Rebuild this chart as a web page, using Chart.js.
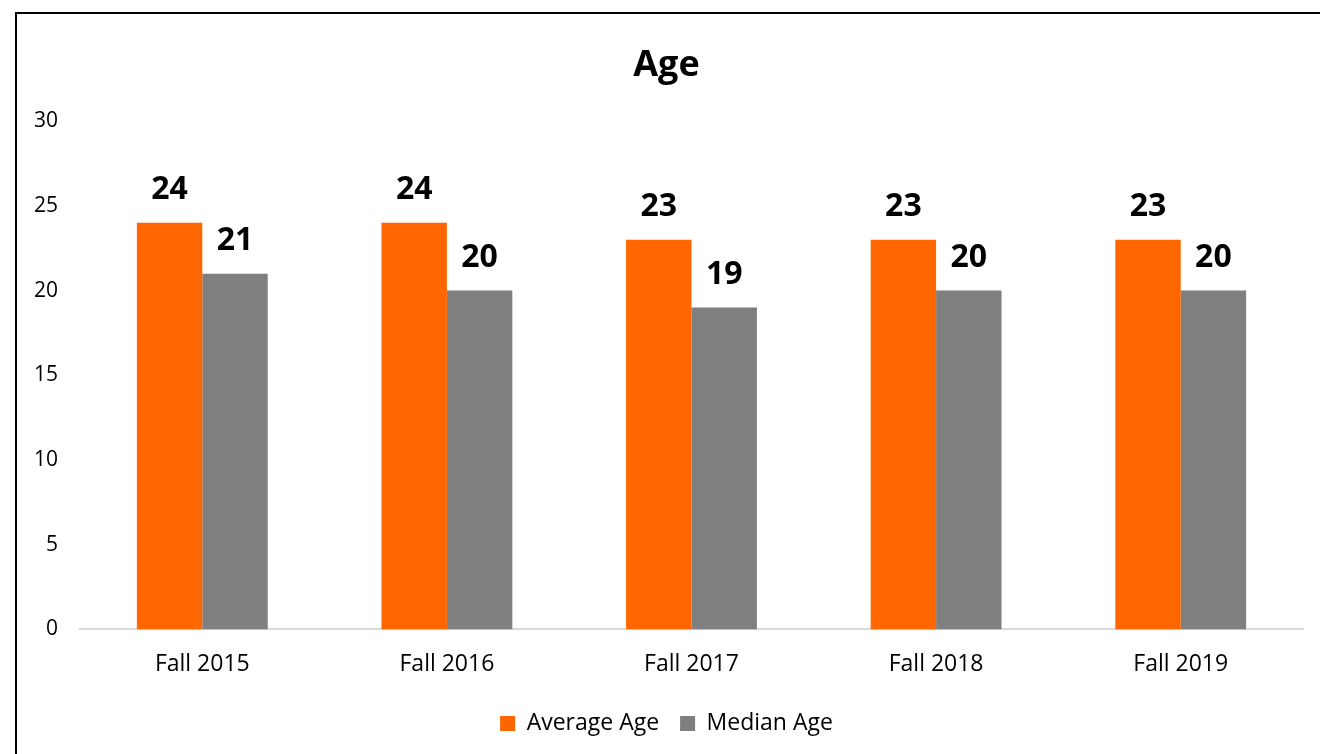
<!DOCTYPE html>
<html>
<head>
<meta charset="utf-8">
<script src="https://cdn.jsdelivr.net/npm/chart.js@4"></script>
<style>
  html, body { margin: 0; padding: 0; background: #fff; overflow: hidden; }
  .frame { position: absolute; left: 15px; top: 12px; width: 1400px; height: 900px; border: 2px solid #000; }
  .wrap { position: absolute; left: 0; top: 0; width: 1320px; height: 754px; }
</style>
</head>
<body>
<div class="frame"></div>
<div class="wrap"><canvas id="chart"></canvas></div>
<script>
const categories = ['Fall 2015', 'Fall 2016', 'Fall 2017', 'Fall 2018', 'Fall 2019'];
const averageAge = [24, 24, 23, 23, 23];
const medianAge = [21, 20, 19, 20, 20];
const yTicks = [0, 5, 10, 15, 20, 25, 30];

const fontFamily = '"Open Sans", sans-serif';

// draws the bold value above each bar
const valueLabels = {
    id: 'valueLabels',
    afterDatasetsDraw(chart) {
        const ctx = chart.ctx;
        ctx.save();
        ctx.font = 'bold 32px ' + fontFamily;
        ctx.fillStyle = '#000';
        ctx.textAlign = 'center';
        ctx.textBaseline = 'middle';
        chart.data.datasets.forEach((ds, i) => {
            chart.getDatasetMeta(i).data.forEach((bar, j) => {
                ctx.fillText(ds.data[j], bar.x, bar.y - 33);
            });
        });
        ctx.restore();
    }
};

new Chart(document.getElementById('chart'), {
    type: 'bar',
    data: {
        labels: categories,
        datasets: [
            { label: 'Average Age', data: averageAge, backgroundColor: '#FF6600' },
            { label: 'Median Age', data: medianAge, backgroundColor: '#7F7F7F' }
        ]
    },
    options: {
        responsive: true,
        maintainAspectRatio: false,
        animation: false,
        datasets: { bar: { barPercentage: 1, categoryPercentage: 0.535 } },
        layout: { padding: { left: 30, right: 17, top: 0, bottom: 9 } },
        scales: {
            x: {
                grid: { display: false },
                border: { display: true, color: '#D9D9D9', width: 2 },
                ticks: { color: '#000', font: { family: fontFamily, size: 23 }, padding: 13 }
            },
            y: {
                min: 0,
                max: 30,
                afterBuildTicks: (scale) => { scale.ticks = yTicks.map(v => ({ value: v })); },
                afterFit: (scale) => { scale.width = 50; },
                grid: { display: false },
                border: { display: false },
                ticks: { color: '#000', font: { family: fontFamily, size: 21 }, padding: 14 }
            }
        },
        plugins: {
            title: {
                display: true,
                text: 'Age',
                color: '#000',
                font: { family: fontFamily, size: 36, weight: 'bold' },
                padding: { top: 44, bottom: 34 }
            },
            legend: {
                position: 'bottom',
                labels: {
                    color: '#000',
                    font: { family: fontFamily, size: 23 },
                    boxWidth: 15,
                    boxHeight: 15,
                    padding: 21
                }
            },
            tooltip: { enabled: false }
        }
    },
    plugins: [valueLabels]
});
</script>
</body>
</html>
